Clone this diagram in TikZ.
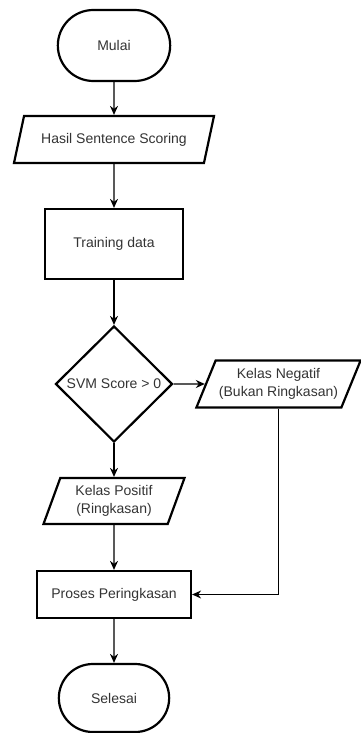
\documentclass[tikz,border=0pt]{standalone}
\usepackage{fontspec}
\setmainfont{Liberation Sans}
\usetikzlibrary{shapes.geometric, shapes.misc, arrows.meta, positioning}

\begin{document}
\begin{tikzpicture}[
        x=1pt, y=1pt,
        font=\fontsize{14}{18}\selectfont,
        terminal/.style={draw, rounded rectangle, line width=2.2pt, minimum width=119pt, minimum height=71pt, text=black!80}, % Start/end styling
        process/.style={draw, rectangle, line width=2.2pt, minimum width=138pt, minimum height=70pt, align=center, text=black!80}, % Box styling
        data/.style={draw, trapezium, trapezium left angle=63, trapezium right angle=117, trapezium stretches body, line width=2.2pt, minimum height=47pt, align=center, text=black!80}, % Input/output styling
        decision/.style={draw, diamond, line width=2.2pt, minimum width=117pt, minimum height=116pt, inner sep=0pt, text=black!80}, % Decision styling
        every path/.style={line width=1.2pt, -{Stealth[length=9pt, width=8pt]}} % Arrow styling
        ]
        \useasboundingbox (0,0) rectangle (360,-733);

        % Define nodes
        \node (mulai) [terminal] at (114,-45.5) {Mulai};
        \node (hasil) [data, below of=mulai, node distance=94pt, minimum width=200pt] {Hasil Sentence Scoring};
        \node (training) [process, below of=hasil, node distance=104.5pt] {Training data};
        \node (svm) [decision, below of=training, node distance=140pt] {SVM Score > 0};
        \node (negatif) [data, right of=svm, node distance=164.5pt, minimum width=163pt] {Kelas Negatif\\(Bukan Ringkasan)};
        \node (positif) [data, below of=svm, node distance=117pt, minimum width=141pt, minimum height=46pt, trapezium left angle=66, trapezium right angle=114] {Kelas Positif\\(Ringkasan)};
        \node (proses) [process, below of=positif, node distance=93.5pt, minimum width=154pt, minimum height=47pt] {Proses Peringkasan};
        \node (selesai) [terminal, below of=proses, node distance=103.5pt, minimum width=117pt, minimum height=68pt] {Selesai};

        % Draw arrows
        \draw (mulai) -- (hasil);
        \draw (hasil) -- (training);
        \draw (training) -- (svm);
        \draw (svm) -- (negatif);
        \draw (svm) -- (positif);
        \draw (positif) -- (proses);
        \draw (negatif.south) |- (proses.east);
        \draw (proses) -- (selesai);

\end{tikzpicture}
\end{document}
